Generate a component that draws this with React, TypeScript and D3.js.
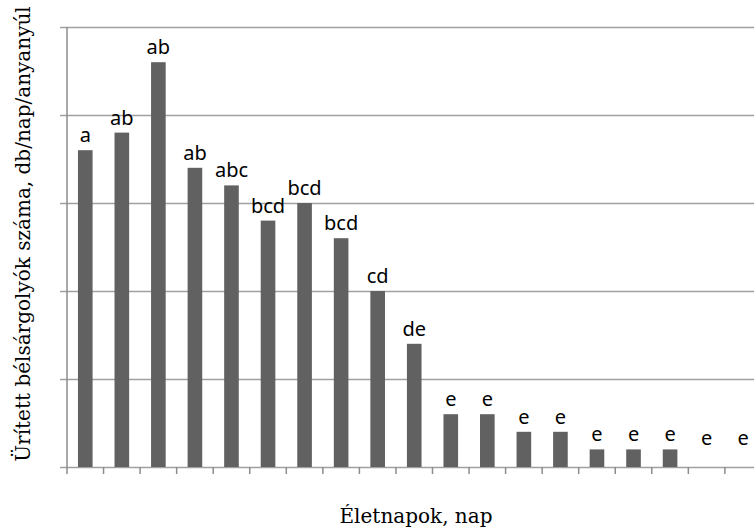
import React, { useRef, useEffect } from 'react';
import * as d3 from 'd3';

const days = d3.range(1, 20).map(String);
const values = [3.6, 3.8, 4.6, 3.4, 3.2, 2.8, 3.0, 2.6, 2.0, 1.4, 0.6, 0.6, 0.4, 0.4, 0.2, 0.2, 0.2, 0, 0];
const letters = ['a', 'ab', 'ab', 'ab', 'abc', 'bcd', 'bcd', 'bcd', 'cd', 'de', 'e', 'e', 'e', 'e', 'e', 'e', 'e', 'e', 'e'];
const yTicks = [0, 1, 2, 3, 4, 5];

const W = 754;
const H = 530;

const App = () => {
    const svgRef = useRef<SVGSVGElement>(null);

    useEffect(() => {
        const margin = { top: 27, left: 67, bottom: 63 };
        const svg = d3.select(svgRef.current);
        svg.selectAll('*').remove();

        const x = d3.scaleBand()
            .domain(days)
            .range([margin.left, margin.left + 19 * 36.55])
            .paddingInner(0.6)
            .paddingOuter(0.3);

        const y = d3.scaleLinear()
            .domain([0, 5])
            .range([H - margin.bottom, margin.top]);

        // gridlines
        svg.append('g')
            .selectAll('line')
            .data(yTicks)
            .enter()
            .append('line')
            .attr('x1', margin.left - 7)
            .attr('x2', W)
            .attr('y1', (d) => y(d) + 0.5)
            .attr('y2', (d) => y(d) + 0.5)
            .attr('stroke', '#a0a0a0')
            .attr('stroke-width', 1.5);

        // y axis line
        svg.append('line')
            .attr('x1', margin.left)
            .attr('x2', margin.left)
            .attr('y1', margin.top)
            .attr('y2', y(0))
            .attr('stroke', '#8c8c8c')
            .attr('stroke-width', 1.5);

        // x ticks at band boundaries
        const step = x.step();
        const bounds = d3.range(0, 20).map((i) => margin.left + i * step);
        svg.append('g')
            .selectAll('line')
            .data(bounds)
            .enter()
            .append('line')
            .attr('x1', (d) => d)
            .attr('x2', (d) => d)
            .attr('y1', y(0))
            .attr('y2', y(0) + 7)
            .attr('stroke', '#8c8c8c')
            .attr('stroke-width', 1.5);

        // bars
        svg.append('g')
            .selectAll('rect')
            .data(values)
            .enter()
            .append('rect')
            .attr('x', (d, i) => x(days[i]))
            .attr('y', (d) => y(d))
            .attr('width', x.bandwidth())
            .attr('height', (d) => y(0) - y(d))
            .attr('fill', '#616161');

        // letters
        svg.append('g')
            .selectAll('text')
            .data(letters)
            .enter()
            .append('text')
            .attr('x', (d, i) => x(days[i]) + x.bandwidth() / 2)
            .attr('y', (d, i) => Math.min(y(values[i]) - 8, y(0) - 22))
            .attr('text-anchor', 'middle')
            .attr('font-family', 'Noto Sans, sans-serif')
            .attr('font-size', 20)
            .attr('fill', '#000')
            .text((d) => d);

        svg.append('text')
            .attr('x', 416)
            .attr('y', 523)
            .attr('text-anchor', 'middle')
            .attr('font-family', 'DejaVu Serif, serif')
            .attr('font-size', 20)
            .attr('fill', '#000')
            .text('Életnapok, nap');

        svg.append('text')
            .attr('transform', 'translate(30,234) rotate(-90)')
            .attr('text-anchor', 'middle')
            .attr('font-family', 'DejaVu Serif, serif')
            .attr('font-size', 20)
            .attr('fill', '#000')
            .text('Ürített bélsárgolyók száma, db/nap/anyanyúl');
    }, []);

    return (
        <svg ref={svgRef} width={W} height={H}
            style={{ position: 'absolute', left: 0, top: 0, background: '#fff' }}></svg>
    );
};

export default App;
